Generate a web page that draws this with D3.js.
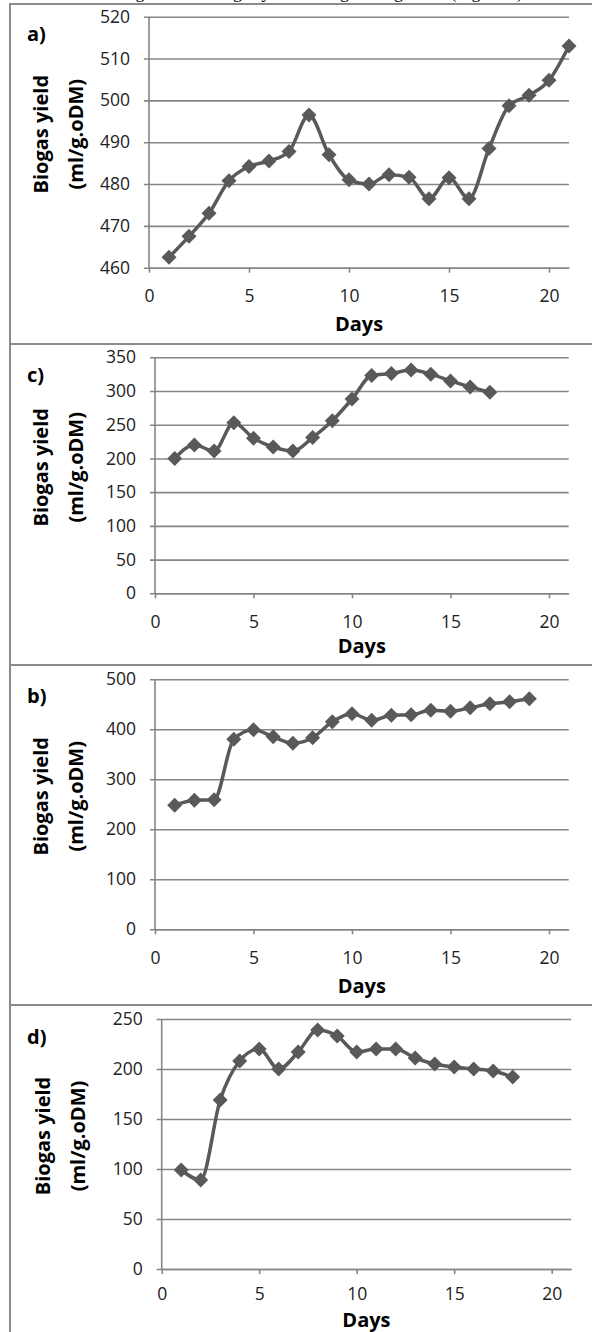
<!DOCTYPE html>
<html>
<head>
<meta charset="utf-8">
<script src="https://cdn.jsdelivr.net/npm/d3@7"></script>
<style>
  body { margin: 0; background: #fff; }
  svg { display: block; }
  .tick text { font-family: "Open Sans", sans-serif; font-size: 17.5px; fill: #222; }
</style>
</head>
<body>
<div id="chart-area"></div>
<script>
// days (x axis) and biogas yield values
var days = [1, 2, 3, 4, 5, 6, 7, 8, 9, 10, 11, 12, 13, 14, 15, 16, 17, 18, 19, 20, 21];
var xTicks = [0, 5, 10, 15, 20];

var yieldA = [462.5, 467.5, 473, 480.8, 484.2, 485.5, 487.8, 496.5, 487, 481, 480, 482.2, 481.6, 476.5, 481.5, 476.5, 488.5, 498.7, 501.2, 504.8, 513];
var yieldC = [200, 220, 211, 253, 230, 217, 211, 231, 256, 288, 323, 326, 331, 325, 315, 306, 298];
var yieldB = [248, 258, 259, 380, 399, 385, 372, 383, 415, 431, 418, 428, 429, 438, 436, 443, 451, 455, 461];
var yieldD = [99, 89, 169, 208, 220, 200, 217, 239, 233, 217, 220, 220, 211, 205, 202, 200, 198, 192];

var ticksA = [460, 470, 480, 490, 500, 510, 520];
var ticksC = [0, 50, 100, 150, 200, 250, 300, 350];
var ticksB = [0, 100, 200, 300, 400, 500];
var ticksD = [0, 50, 100, 150, 200, 250];

var W = 592, H = 1332;
var ink = "#595959", grid = "#868686", frame = "#8a8a8a";

var svg = d3.select("#chart-area")
    .append("svg")
    .attr("width", W)
    .attr("height", H);

// caption line of the page above, mostly cut off
svg.append("text")
    .attr("x", 523)
    .attr("y", -2.5)
    .attr("text-anchor", "end")
    .attr("fill", "#000")
    .style("font-family", "Liberation Serif, serif")
    .style("font-size", "18px")
    .text("Changes of the biogas yield during the digestion (Figure 4)");

// panel layout
var panels = [
    { label: "a)", values: yieldA, ticks: ticksA, top: 4,    x0: 149,   x1: 569,   yTop: 16.7,   yBot: 267.7,  labelY: 41,   daysY: 331,  xPad: 17, titleDx: 0 },
    { label: "c)", values: yieldC, ticks: ticksC, top: 344,  x0: 155,   x1: 568.7, yTop: 357.3,  yBot: 593.3,  labelY: 382,  daysY: 653,  xPad: 17, titleDx: 0 },
    { label: "b)", values: yieldB, ticks: ticksB, top: 665,  x0: 155,   x1: 568.7, yTop: 679.3,  yBot: 929.3,  labelY: 703,  daysY: 993,  xPad: 17, titleDx: 0 },
    { label: "d)", values: yieldD, ticks: ticksD, top: 1005, x0: 161.7, x1: 571.2, yTop: 1019,   yBot: 1269,   labelY: 1044, daysY: 1327, xPad: 14, titleDx: 2 }
];

// frame lines
svg.append("line")
    .attr("x1", 10).attr("x2", 10)
    .attr("y1", 4).attr("y2", H)
    .attr("stroke", frame).attr("stroke-width", 2);

svg.selectAll(".frame-h")
    .data(panels)
    .enter()
    .append("line")
    .attr("class", "frame-h")
    .attr("x1", 9).attr("x2", W)
    .attr("y1", d => d.top).attr("y2", d => d.top)
    .attr("stroke", frame).attr("stroke-width", 2);

function diamond(r) {
    return "M0," + (-r) + "L" + r + ",0L0," + r + "L" + (-r) + ",0Z";
}

panels.forEach(function(p) {
    var g = svg.append("g");
    var w = p.x1 - p.x0;

    var x = d3.scaleLinear().domain([0, 21]).range([p.x0, p.x1]);
    var y = d3.scaleLinear()
        .domain([d3.min(p.ticks), d3.max(p.ticks)])
        .range([p.yBot, p.yTop]);

    // horizontal gridlines + left ticks + labels
    var yAxis = d3.axisLeft(y)
        .tickValues(p.ticks)
        .tickSize(w + 5)
        .tickPadding(14)
        .tickFormat(d3.format("d"));

    var ya = g.append("g")
        .attr("transform", "translate(" + p.x1 + ",0)")
        .call(yAxis);
    ya.select(".domain").remove();
    ya.selectAll(".tick line").attr("stroke", grid).attr("stroke-width", 1.6);

    // x axis
    var xAxis = d3.axisBottom(x)
        .tickValues(xTicks)
        .tickSize(5)
        .tickSizeOuter(0)
        .tickPadding(p.xPad)
        .tickFormat(d3.format("d"));

    var xa = g.append("g")
        .attr("transform", "translate(0," + p.yBot + ")")
        .call(xAxis);
    xa.select(".domain").attr("stroke", grid).attr("stroke-width", 1.6);
    xa.selectAll(".tick line").attr("stroke", grid).attr("stroke-width", 1.6);

    // vertical axis line
    g.append("line")
        .attr("x1", x(0)).attr("x2", x(0))
        .attr("y1", p.yTop).attr("y2", p.yBot)
        .attr("stroke", grid).attr("stroke-width", 1.6);

    // axis titles
    g.append("text")
        .attr("x", (p.x0 + p.x1) / 2)
        .attr("y", p.daysY)
        .attr("text-anchor", "middle")
        .style("font-family", "Open Sans, sans-serif")
        .style("font-weight", "bold")
        .style("font-size", "20px")
        .text("Days");

    var cy = (p.yTop + p.yBot) / 2 - 8;
    g.append("text")
        .attr("transform", "translate(" + (48 + p.titleDx) + "," + cy + ") rotate(-90)")
        .attr("text-anchor", "middle")
        .style("font-family", "Open Sans, sans-serif")
        .style("font-weight", "bold")
        .style("font-size", "20px")
        .text("Biogas yield");

    g.append("text")
        .attr("transform", "translate(" + (83 + p.titleDx) + "," + cy + ") rotate(-90)")
        .attr("text-anchor", "middle")
        .style("font-family", "Open Sans, sans-serif")
        .style("font-weight", "bold")
        .style("font-size", "20px")
        .text("(ml/g.oDM)");

    g.append("text")
        .attr("x", 27)
        .attr("y", p.labelY)
        .style("font-family", "Open Sans, sans-serif")
        .style("font-weight", "bold")
        .style("font-size", "20px")
        .text(p.label);

    // series
    var pts = p.values.map((v, i) => ({ day: days[i], v: v }));

    var line = d3.line()
        .x(d => x(d.day))
        .y(d => y(d.v))
        .curve(d3.curveMonotoneX);

    g.append("path")
        .datum(pts)
        .attr("d", line)
        .attr("fill", "none")
        .attr("stroke", ink)
        .attr("stroke-width", 3.5)
        .attr("stroke-linejoin", "round");

    g.selectAll(".marker")
        .data(pts)
        .enter()
        .append("path")
        .attr("class", "marker")
        .attr("transform", d => "translate(" + x(d.day) + "," + y(d.v) + ")")
        .attr("d", diamond(7.5))
        .attr("fill", ink);
});
</script>
</body>
</html>
